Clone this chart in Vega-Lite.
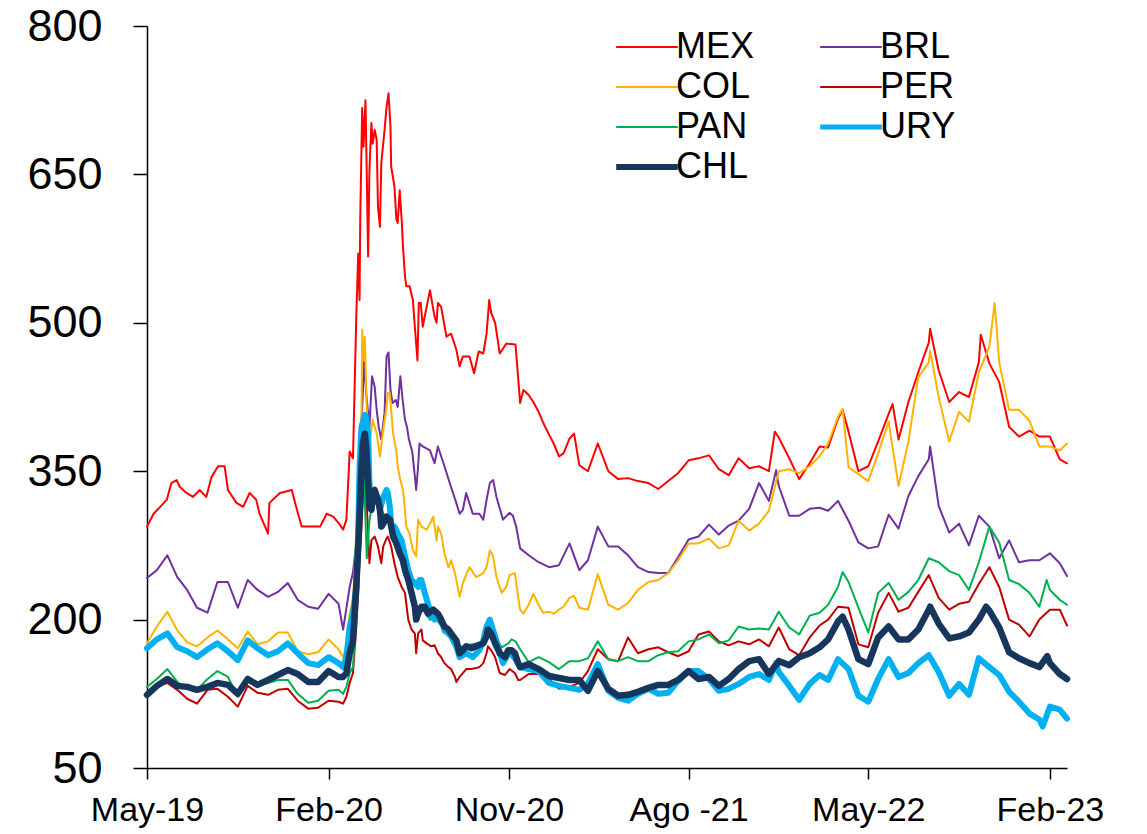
{
  "$schema": "https://vega.github.io/schema/vega-lite/v6.json",
  "width": 920,
  "height": 742,
  "autosize": {"type": "none"},
  "padding": {"left": 147, "top": 26, "right": 80, "bottom": 66},
  "background": "white",
  "config": {"view": {"stroke": null}, "font": "Liberation Sans"},
  "data": {"values": [
    {"d":"2019-05-01","MEX":294,"BRL":242,"COL":176,"PER":125,"PAN":132,"URY":171,"CHL":124},
    {"d":"2019-05-11","MEX":307},
    {"d":"2019-05-16","BRL":250,"COL":193,"PER":133,"PAN":140,"URY":180,"CHL":133},
    {"d":"2019-05-21","MEX":314},
    {"d":"2019-05-31","MEX":321},
    {"d":"2019-06-01","BRL":265,"COL":208,"PER":136,"PAN":150,"URY":186,"CHL":140},
    {"d":"2019-06-07","MEX":338},
    {"d":"2019-06-15","MEX":341},
    {"d":"2019-06-16","BRL":243,"COL":189,"PER":129,"PAN":137,"URY":172,"CHL":133},
    {"d":"2019-06-20","MEX":334},
    {"d":"2019-06-30","MEX":328},
    {"d":"2019-07-01","BRL":230,"COL":177,"PER":120,"PAN":130,"URY":168,"CHL":132},
    {"d":"2019-07-10","MEX":324},
    {"d":"2019-07-16","BRL":212,"COL":173,"PER":115,"PAN":129,"URY":162,"CHL":129},
    {"d":"2019-07-20","MEX":331},
    {"d":"2019-07-30","MEX":324},
    {"d":"2019-08-01","BRL":207,"COL":182,"PER":129,"PAN":140,"URY":170,"CHL":132},
    {"d":"2019-08-07","MEX":344},
    {"d":"2019-08-16","BRL":238,"COL":189,"PER":130,"PAN":148,"URY":176,"CHL":136},
    {"d":"2019-08-17","MEX":355},
    {"d":"2019-08-27","MEX":355},
    {"d":"2019-09-01","MEX":331,"BRL":238,"COL":180,"PER":122,"PAN":142,"URY":168,"CHL":134},
    {"d":"2019-09-14","MEX":318},
    {"d":"2019-09-16","BRL":212,"COL":171,"PER":112,"PAN":122,"URY":159,"CHL":125},
    {"d":"2019-09-24","MEX":314},
    {"d":"2019-10-01","BRL":240,"COL":188,"PER":133,"PAN":140,"URY":179,"CHL":140},
    {"d":"2019-10-04","MEX":328},
    {"d":"2019-10-14","MEX":321},
    {"d":"2019-10-16","BRL":230,"COL":175,"PER":126,"PAN":133,"URY":171,"CHL":134},
    {"d":"2019-10-19","MEX":307},
    {"d":"2019-11-01","MEX":287,"BRL":223,"COL":178,"PER":124,"PAN":136,"URY":164,"CHL":139},
    {"d":"2019-11-03","MEX":318},
    {"d":"2019-11-16","BRL":228,"COL":187,"PER":129,"PAN":139,"URY":168,"CHL":144},
    {"d":"2019-11-19","MEX":328},
    {"d":"2019-12-01","BRL":237,"COL":187,"PER":130,"PAN":139,"URY":176,"CHL":149},
    {"d":"2019-12-07","MEX":331},
    {"d":"2019-12-12","MEX":318},
    {"d":"2019-12-16","BRL":220,"COL":168,"PER":118,"PAN":125,"URY":166,"CHL":145},
    {"d":"2019-12-22","MEX":294},
    {"d":"2020-01-01","BRL":213,"COL":165,"PER":110,"PAN":116,"URY":156,"CHL":137},
    {"d":"2020-01-03","MEX":294},
    {"d":"2020-01-16","BRL":211,"COL":167,"PER":111,"PAN":118,"URY":154,"CHL":137},
    {"d":"2020-01-19","MEX":294},
    {"d":"2020-01-29","MEX":307},
    {"d":"2020-02-01","BRL":226,"COL":180,"PER":118,"PAN":128,"URY":162,"CHL":148},
    {"d":"2020-02-08","MEX":304},
    {"d":"2020-02-16","BRL":216,"COL":170,"PER":117,"PAN":129,"URY":156,"CHL":142},
    {"d":"2020-02-18","MEX":296},
    {"d":"2020-02-23","MEX":291,"BRL":190,"COL":162,"PER":115,"PAN":125,"URY":152,"CHL":142},
    {"d":"2020-02-28","MEX":301,"COL":173,"PER":122,"PAN":132,"URY":162,"CHL":146},
    {"d":"2020-03-04","MEX":370,"BRL":233,"COL":206,"PER":136,"PAN":146,"URY":193,"CHL":166},
    {"d":"2020-03-09","MEX":363,"BRL":248,"COL":220,"PER":146,"PAN":152,"URY":206,"CHL":179},
    {"d":"2020-03-12","PAN":186},
    {"d":"2020-03-14","MEX":506,"BRL":277,"COL":287,"PER":193,"URY":233,"CHL":233},
    {"d":"2020-03-17","MEX":570,"BRL":314,"COL":330,"PAN":227,"URY":287},
    {"d":"2020-03-18","CHL":287},
    {"d":"2020-03-19","MEX":523,"COL":371,"PER":260,"PAN":287,"URY":355},
    {"d":"2020-03-20","MEX":604},
    {"d":"2020-03-22","BRL":398,"COL":410,"PAN":338,"URY":395,"CHL":355},
    {"d":"2020-03-23","MEX":717,"COL":493},
    {"d":"2020-03-24","PER":321,"CHL":378},
    {"d":"2020-03-25","MEX":678,"COL":462,"PAN":370},
    {"d":"2020-03-26","BRL":462},
    {"d":"2020-03-27","COL":486,"PER":355,"URY":407,"CHL":388},
    {"d":"2020-03-28","MEX":725,"PAN":300},
    {"d":"2020-03-29","BRL":429,"URY":405,"CHL":375},
    {"d":"2020-03-30","MEX":648,"COL":412,"PAN":262},
    {"d":"2020-04-01","MEX":567,"PER":287,"URY":388,"CHL":338},
    {"d":"2020-04-03","MEX":654,"BRL":395,"COL":378,"PER":257,"PAN":300,"URY":338,"CHL":314},
    {"d":"2020-04-06","MEX":702,"PER":280,"URY":311,"CHL":311},
    {"d":"2020-04-07","BRL":446},
    {"d":"2020-04-08","MEX":681,"COL":402,"PAN":320,"URY":321,"CHL":328},
    {"d":"2020-04-11","MEX":695,"BRL":435,"PER":284,"CHL":331},
    {"d":"2020-04-14","MEX":685,"BRL":412,"COL":388,"URY":324},
    {"d":"2020-04-16","MEX":617,"PER":274,"PAN":315,"CHL":321},
    {"d":"2020-04-17","BRL":395},
    {"d":"2020-04-19","MEX":597,"COL":365,"URY":311,"CHL":311},
    {"d":"2020-04-21","MEX":661,"BRL":382,"PER":257,"PAN":312,"CHL":294},
    {"d":"2020-04-24","COL":392,"PER":274,"URY":324,"CHL":297},
    {"d":"2020-04-26","MEX":695,"BRL":409},
    {"d":"2020-04-29","MEX":718,"BRL":466,"COL":415,"PER":282,"PAN":300,"URY":331,"CHL":304},
    {"d":"2020-05-01","COL":429,"PER":284,"URY":328},
    {"d":"2020-05-02","MEX":732,"BRL":470},
    {"d":"2020-05-04","COL":429,"PAN":298,"URY":314,"CHL":301},
    {"d":"2020-05-05","MEX":698,"BRL":432},
    {"d":"2020-05-06","MEX":658,"PER":274,"URY":297},
    {"d":"2020-05-08","BRL":419},
    {"d":"2020-05-09","COL":388,"CHL":284},
    {"d":"2020-05-11","MEX":638,"PER":257,"PAN":276,"URY":294},
    {"d":"2020-05-13","BRL":422},
    {"d":"2020-05-14","MEX":604,"COL":370,"CHL":277},
    {"d":"2020-05-16","MEX":601,"BRL":415,"COL":355,"PER":243,"URY":287},
    {"d":"2020-05-19","MEX":634,"COL":344,"PAN":262,"CHL":267},
    {"d":"2020-05-20","BRL":446},
    {"d":"2020-05-22","MEX":604,"PER":233,"URY":280},
    {"d":"2020-05-23","BRL":425},
    {"d":"2020-05-24","MEX":577,"COL":331,"CHL":260},
    {"d":"2020-05-27","MEX":547,"BRL":402,"COL":311,"PER":227,"PAN":246,"URY":264,"CHL":250},
    {"d":"2020-05-29","MEX":537,"COL":294},
    {"d":"2020-05-30","BRL":395},
    {"d":"2020-06-01","PER":200,"URY":250,"CHL":240},
    {"d":"2020-06-02","BRL":382},
    {"d":"2020-06-03","MEX":537,"COL":287,"PAN":232},
    {"d":"2020-06-06","PER":190,"URY":240,"CHL":227},
    {"d":"2020-06-07","BRL":370},
    {"d":"2020-06-08","MEX":523,"COL":270},
    {"d":"2020-06-11","MEX":496,"BRL":345,"PER":186,"PAN":212,"URY":237,"CHL":213},
    {"d":"2020-06-13","BRL":331,"COL":264,"PER":166,"CHL":200},
    {"d":"2020-06-15","MEX":462},
    {"d":"2020-06-16","BRL":355,"COL":301,"PER":186,"URY":233,"CHL":206},
    {"d":"2020-06-17","MEX":520},
    {"d":"2020-06-18","BRL":378,"PAN":210,"URY":240},
    {"d":"2020-06-20","MEX":520},
    {"d":"2020-06-21","COL":294,"PER":190,"URY":240,"CHL":213},
    {"d":"2020-06-23","MEX":496,"BRL":375,"PER":179},
    {"d":"2020-06-26","PAN":208,"URY":227,"CHL":213},
    {"d":"2020-06-28","MEX":513},
    {"d":"2020-06-29","COL":291,"PER":176},
    {"d":"2020-07-01","URY":216,"CHL":206},
    {"d":"2020-07-04","MEX":533,"BRL":371,"COL":297,"PAN":200},
    {"d":"2020-07-06","PER":173,"URY":203},
    {"d":"2020-07-09","COL":304,"CHL":210},
    {"d":"2020-07-11","MEX":506,"BRL":358,"PER":174,"PAN":205,"URY":200},
    {"d":"2020-07-14","MEX":500,"COL":280},
    {"d":"2020-07-16","MEX":520,"BRL":375,"COL":294,"PER":166,"PAN":198,"URY":203,"CHL":206},
    {"d":"2020-07-21","MEX":516,"COL":287,"PER":162,"URY":200,"CHL":200},
    {"d":"2020-07-26","BRL":355,"COL":267,"PER":156,"PAN":190,"URY":189,"CHL":193},
    {"d":"2020-07-29","MEX":486},
    {"d":"2020-08-01","COL":253,"PER":152,"URY":186,"CHL":190},
    {"d":"2020-08-03","BRL":338,"PAN":186},
    {"d":"2020-08-05","MEX":489,"COL":260,"PER":150,"URY":183,"CHL":186},
    {"d":"2020-08-11","COL":247,"PER":142,"PAN":180},
    {"d":"2020-08-13","MEX":473,"BRL":318,"PER":137,"URY":173,"CHL":179},
    {"d":"2020-08-18","MEX":456,"BRL":307,"COL":223,"PER":142,"PAN":172,"URY":162,"CHL":166},
    {"d":"2020-08-23","MEX":466,"BRL":311,"COL":237,"PER":146,"CHL":169},
    {"d":"2020-08-28","BRL":328,"PER":150,"PAN":174,"URY":166,"CHL":173},
    {"d":"2020-09-02","MEX":466,"COL":253},
    {"d":"2020-09-05","PER":150,"CHL":171},
    {"d":"2020-09-07","BRL":307,"PAN":175,"URY":162},
    {"d":"2020-09-09","MEX":449},
    {"d":"2020-09-12","COL":243,"PER":151,"CHL":173},
    {"d":"2020-09-16","MEX":471,"PAN":176},
    {"d":"2020-09-17","BRL":307,"PER":152,"URY":169},
    {"d":"2020-09-23","MEX":469,"BRL":301,"COL":247,"PER":156,"PAN":178,"URY":179,"CHL":176},
    {"d":"2020-09-28","MEX":489,"BRL":321,"COL":253,"PER":166,"URY":193,"CHL":183},
    {"d":"2020-09-30","PER":173,"PAN":190,"CHL":190},
    {"d":"2020-10-02","MEX":523},
    {"d":"2020-10-03","BRL":338,"COL":270,"URY":200},
    {"d":"2020-10-05","MEX":510,"PER":169,"PAN":188,"CHL":186},
    {"d":"2020-10-08","BRL":341,"COL":264,"URY":189},
    {"d":"2020-10-11","MEX":500,"PER":162,"CHL":176},
    {"d":"2020-10-13","BRL":324,"COL":243,"PAN":180,"URY":179},
    {"d":"2020-10-18","MEX":469,"PER":146,"URY":166,"CHL":166},
    {"d":"2020-10-21","COL":227,"PAN":172},
    {"d":"2020-10-23","BRL":301,"URY":156},
    {"d":"2020-10-26","PER":144,"CHL":162},
    {"d":"2020-10-28","MEX":479,"COL":233},
    {"d":"2020-10-31","PAN":176,"CHL":169},
    {"d":"2020-11-02","BRL":308,"COL":245,"PER":150,"URY":168},
    {"d":"2020-11-05","PAN":180,"CHL":169},
    {"d":"2020-11-07","BRL":305},
    {"d":"2020-11-10","COL":247,"PER":146,"CHL":166},
    {"d":"2020-11-11","MEX":478,"PAN":178},
    {"d":"2020-11-12","BRL":294,"URY":159},
    {"d":"2020-11-15","COL":223,"PER":139,"CHL":156},
    {"d":"2020-11-18","MEX":419,"BRL":272,"COL":210,"PER":139,"PAN":170,"URY":152,"CHL":152},
    {"d":"2020-11-23","MEX":432,"COL":206},
    {"d":"2020-12-01","MEX":427,"BRL":265,"COL":215,"PER":145,"PAN":157,"URY":150,"CHL":155},
    {"d":"2020-12-08","MEX":420,"COL":226},
    {"d":"2020-12-16","MEX":410,"BRL":258,"COL":215,"PER":145,"PAN":162,"URY":148,"CHL":150},
    {"d":"2020-12-23","MEX":399,"COL":207},
    {"d":"2021-01-01","MEX":387,"BRL":253,"COL":208,"PER":140,"PAN":157,"URY":136,"CHL":143},
    {"d":"2021-01-08","MEX":378,"COL":206},
    {"d":"2021-01-16","MEX":365,"BRL":255,"COL":210,"PER":130,"PAN":150,"URY":133,"CHL":141},
    {"d":"2021-01-23","MEX":368,"COL":213},
    {"d":"2021-02-01","MEX":383,"BRL":277,"COL":222,"PER":132,"PAN":158,"URY":131,"CHL":139},
    {"d":"2021-02-08","MEX":388,"COL":224},
    {"d":"2021-02-16","MEX":356,"BRL":250,"COL":212,"PER":136,"PAN":158,"URY":129,"CHL":139},
    {"d":"2021-03-01","MEX":350,"BRL":260,"COL":210,"PER":148,"PAN":161,"URY":135,"CHL":128},
    {"d":"2021-03-16","MEX":378,"BRL":294,"COL":246,"PER":170,"PAN":178,"URY":155,"CHL":148},
    {"d":"2021-04-01","MEX":350,"BRL":274,"COL":215,"PER":160,"PAN":160,"URY":128,"CHL":130},
    {"d":"2021-04-16","MEX":342,"BRL":274,"COL":210,"PER":158,"PAN":158,"URY":121,"CHL":123},
    {"d":"2021-05-01","MEX":343,"BRL":265,"COL":217,"PER":182,"PAN":162,"URY":118,"CHL":124},
    {"d":"2021-05-16","MEX":340,"BRL":253,"COL":230,"PER":166,"PAN":158,"URY":125,"CHL":127},
    {"d":"2021-06-01","MEX":338,"BRL":248,"COL":238,"PER":170,"PAN":158,"URY":130,"CHL":131},
    {"d":"2021-06-16","MEX":332,"BRL":247,"COL":240,"PER":172,"PAN":164,"URY":125,"CHL":134},
    {"d":"2021-07-01","MEX":340,"BRL":247,"COL":247,"PER":167,"PAN":167,"URY":126,"CHL":134},
    {"d":"2021-07-16","MEX":348,"BRL":263,"COL":260,"PER":163,"PAN":168,"URY":138,"CHL":139},
    {"d":"2021-08-01","MEX":361,"BRL":281,"COL":277,"PER":168,"PAN":178,"URY":148,"CHL":148},
    {"d":"2021-08-16","MEX":363,"BRL":284,"COL":277,"PER":185,"PAN":180,"URY":148,"CHL":140},
    {"d":"2021-09-01","MEX":366,"BRL":296,"COL":282,"PER":188,"PAN":185,"URY":140,"CHL":142},
    {"d":"2021-09-16","MEX":352,"BRL":286,"COL":272,"PER":178,"PAN":176,"URY":128,"CHL":133},
    {"d":"2021-10-01","MEX":346,"BRL":295,"COL":275,"PER":174,"PAN":179,"URY":130,"CHL":140},
    {"d":"2021-10-16","MEX":363,"BRL":300,"COL":300,"PER":178,"PAN":193,"URY":135,"CHL":150},
    {"d":"2021-11-01","MEX":353,"BRL":312,"COL":290,"PER":175,"PAN":190,"URY":142,"CHL":158},
    {"d":"2021-11-16","MEX":355,"BRL":338,"COL":297,"PER":180,"PAN":191,"URY":145,"CHL":160},
    {"d":"2021-12-01","MEX":350,"BRL":320,"COL":310,"PER":173,"PAN":190,"URY":139,"CHL":145},
    {"d":"2021-12-10","MEX":390},
    {"d":"2021-12-12","BRL":351,"URY":156},
    {"d":"2021-12-16","MEX":384,"BRL":335,"COL":350,"PER":192,"PAN":208,"URY":147,"CHL":158},
    {"d":"2022-01-01","MEX":363,"BRL":305,"COL":352,"PER":170,"PAN":192,"URY":133,"CHL":154},
    {"d":"2022-01-16","MEX":342,"BRL":305,"COL":348,"PER":164,"PAN":185,"URY":119,"CHL":162},
    {"d":"2022-02-01","MEX":358,"BRL":312,"COL":355,"PER":182,"PAN":204,"URY":135,"CHL":166},
    {"d":"2022-02-16","MEX":375,"BRL":313,"COL":365,"PER":194,"PAN":207,"URY":144,"CHL":172},
    {"d":"2022-03-01","MEX":374,"BRL":310,"COL":378,"PER":200,"PAN":215,"URY":139,"CHL":180},
    {"d":"2022-03-16","MEX":403,"BRL":320,"COL":405,"PER":213,"PAN":233,"URY":160,"CHL":198},
    {"d":"2022-03-23","MEX":412,"COL":413,"PAN":248,"CHL":203},
    {"d":"2022-04-01","MEX":390,"BRL":300,"COL":354,"PER":212,"PAN":238,"URY":150,"CHL":190},
    {"d":"2022-04-16","MEX":350,"BRL":278,"COL":347,"PER":175,"PAN":212,"URY":123,"CHL":160},
    {"d":"2022-05-01","MEX":355,"BRL":272,"COL":340,"PER":172,"PAN":187,"URY":117,"CHL":155},
    {"d":"2022-05-16","MEX":380,"BRL":274,"COL":368,"PER":207,"PAN":227,"URY":140,"CHL":182},
    {"d":"2022-06-01","MEX":408,"BRL":306,"COL":400,"PER":227,"PAN":237,"URY":160,"CHL":193},
    {"d":"2022-06-07","MEX":418},
    {"d":"2022-06-16","MEX":382,"BRL":292,"COL":335,"PER":208,"PAN":220,"URY":142,"CHL":180},
    {"d":"2022-07-01","MEX":420,"BRL":325,"COL":380,"PER":212,"PAN":228,"URY":146,"CHL":180},
    {"d":"2022-07-16","MEX":450,"BRL":345,"COL":445,"PER":228,"PAN":240,"URY":156,"CHL":190},
    {"d":"2022-08-01","MEX":480,"BRL":362,"COL":460,"PER":245,"PAN":262,"URY":164,"CHL":210},
    {"d":"2022-08-03","MEX":494,"BRL":375,"COL":472,"CHL":213},
    {"d":"2022-08-16","MEX":452,"BRL":315,"COL":425,"PER":222,"PAN":258,"URY":147,"CHL":196},
    {"d":"2022-09-01","MEX":420,"BRL":288,"COL":380,"PER":210,"PAN":249,"URY":123,"CHL":181},
    {"d":"2022-09-16","MEX":430,"BRL":297,"COL":410,"PER":216,"PAN":245,"URY":135,"CHL":183},
    {"d":"2022-10-01","MEX":425,"BRL":275,"COL":400,"PER":218,"PAN":230,"URY":124,"CHL":187},
    {"d":"2022-10-16","MEX":460,"BRL":305,"COL":450,"PER":236,"PAN":258,"URY":161,"CHL":200},
    {"d":"2022-10-19","MEX":488},
    {"d":"2022-10-27","CHL":213},
    {"d":"2022-11-01","MEX":459,"BRL":294,"COL":476,"PER":253,"PAN":294,"URY":152,"CHL":209},
    {"d":"2022-11-09","COL":520},
    {"d":"2022-11-16","MEX":440,"BRL":262,"COL":460,"PER":233,"PAN":278,"URY":144,"CHL":192},
    {"d":"2022-12-01","MEX":395,"BRL":280,"COL":412,"PER":200,"PAN":240,"URY":127,"CHL":167},
    {"d":"2022-12-16","MEX":385,"BRL":258,"COL":412,"PER":195,"PAN":236,"URY":117,"CHL":161},
    {"d":"2023-01-01","MEX":391,"BRL":260,"COL":401,"PER":183,"PAN":227,"URY":105,"CHL":156},
    {"d":"2023-01-16","MEX":385,"BRL":260,"COL":375,"PER":200,"PAN":213,"URY":99,"CHL":152},
    {"d":"2023-01-21","URY":92},
    {"d":"2023-01-27","PAN":240},
    {"d":"2023-01-28","CHL":163},
    {"d":"2023-02-01","MEX":385,"BRL":267,"COL":375,"PER":210,"PAN":230,"URY":112,"CHL":156},
    {"d":"2023-02-16","MEX":362,"BRL":257,"COL":371,"PER":210,"PAN":220,"URY":109,"CHL":145},
    {"d":"2023-02-27","MEX":358,"BRL":244,"COL":378,"PER":194,"PAN":215,"URY":100,"CHL":140}
  ]},
  "transform": [
    {"fold": ["MEX", "BRL", "COL", "PER", "PAN", "URY", "CHL"], "as": ["s", "v"]},
    {"filter": "isValid(datum.v)"}
  ],
  "encoding": {
    "x": {
      "field": "d", "type": "temporal",
      "scale": {"type": "utc", "domain": [{"year": 2019, "month": 5, "date": 1, "utc": true}, {"year": 2023, "month": 2, "date": 27, "utc": true}]},
      "axis": {
        "title": null, "grid": false,
        "values": [
          {"year": 2019, "month": 5, "date": 1, "utc": true},
          {"year": 2020, "month": 2, "date": 1, "utc": true},
          {"year": 2020, "month": 11, "date": 1, "utc": true},
          {"year": 2021, "month": 8, "date": 1, "utc": true},
          {"year": 2022, "month": 5, "date": 1, "utc": true},
          {"year": 2023, "month": 2, "date": 1, "utc": true}
        ],
        "labelExpr": "utcFormat(datum.value, '%b') === 'Aug' ? 'Ago -' + utcFormat(datum.value, '%y') : utcFormat(datum.value, '%b-%y')",
        "labelFont": "Liberation Sans", "labelFontSize": 34, "labelColor": "black",
        "labelPadding": 14, "labelFlush": false, "labelOverlap": false,
        "tickSize": 11, "tickColor": "black", "tickWidth": 1.5,
        "domainColor": "black", "domainWidth": 1.5
      }
    },
    "y": {
      "field": "v", "type": "quantitative",
      "scale": {"domain": [50, 800], "nice": false, "zero": false},
      "axis": {
        "title": null, "grid": false,
        "values": [50, 200, 350, 500, 650, 800],
        "labelFont": "Liberation Sans", "labelFontSize": 45, "labelColor": "black",
        "labelPadding": 31, "labelOverlap": false,
        "tickSize": 14, "tickColor": "black", "tickWidth": 1.5,
        "domainColor": "black", "domainWidth": 1.5
      }
    },
    "color": {
      "field": "s", "type": "nominal",
      "scale": {
        "domain": ["MEX", "COL", "PAN", "CHL", "BRL", "PER", "URY"],
        "range": ["#FF0000", "#FFB200", "#00B050", "#17365D", "#7030A0", "#C00000", "#00B0F0"]
      },
      "legend": {
        "title": null, "orient": "none", "legendX": 482, "legendY": 3,
        "columns": 2, "columnPadding": 55, "rowPadding": 4, "padding": 0,
        "symbolType": "stroke", "symbolSize": 3800, "symbolStrokeWidth": 2,
        "labelFont": "Liberation Sans", "labelFontSize": 36, "labelColor": "black",
        "labelOffset": 11, "labelLimit": 0,
        "encode": {
          "symbols": {"update": {"strokeWidth": {"signal": "datum.value === 'URY' ? 5 : datum.value === 'CHL' ? 6 : 2"}}}
        }
      }
    }
  },
  "layer": [
    {
      "transform": [{"filter": "datum.s !== 'URY' && datum.s !== 'CHL'"}],
      "mark": {"type": "line", "strokeWidth": 2, "strokeJoin": "round", "strokeCap": "round"}
    },
    {
      "transform": [{"filter": "datum.s === 'URY'"}],
      "mark": {"type": "line", "strokeWidth": 6, "strokeJoin": "round", "strokeCap": "round"}
    },
    {
      "transform": [{"filter": "datum.s === 'CHL'"}],
      "mark": {"type": "line", "strokeWidth": 6.5, "strokeJoin": "round", "strokeCap": "round"}
    }
  ]
}
